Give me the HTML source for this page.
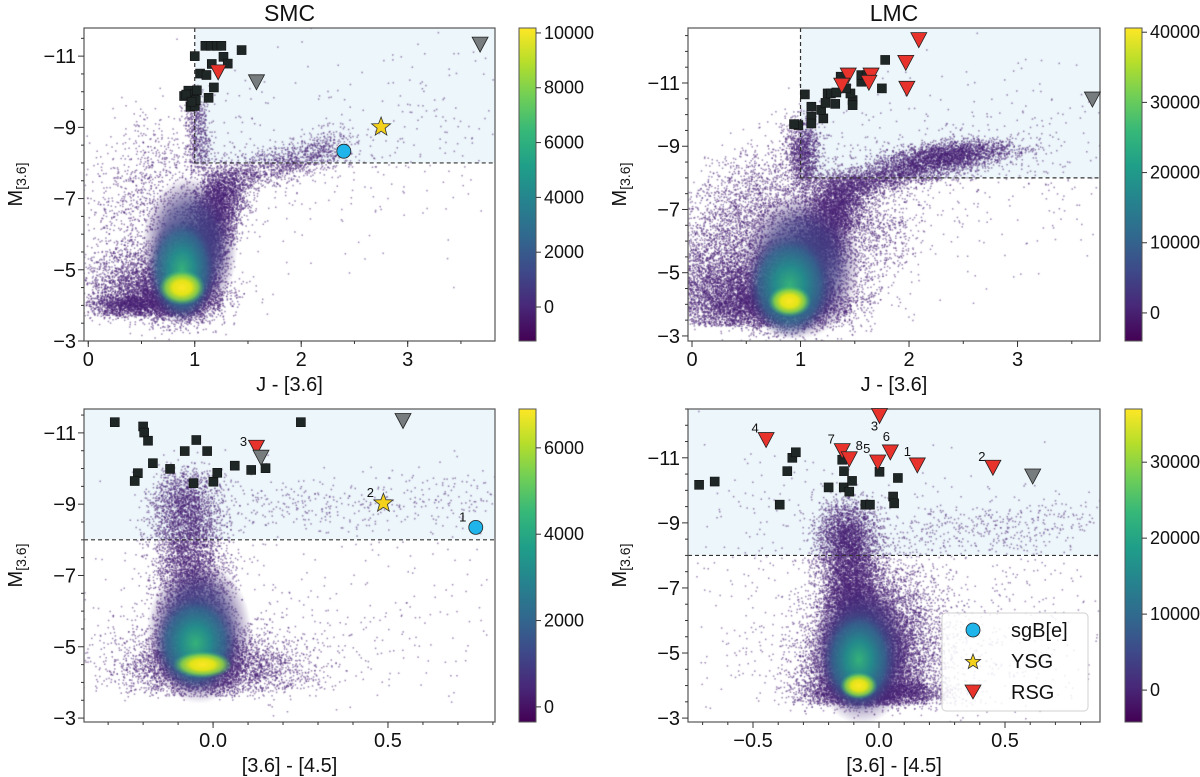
<!DOCTYPE html>
<html><head><meta charset="utf-8"><style>
html,body{margin:0;padding:0;background:#fff;}
#wrap{position:relative;width:1200px;height:777px;overflow:hidden;font-family:"Liberation Sans","DejaVu Sans",sans-serif;}
canvas,svg{position:absolute;left:0;top:0;}
</style></head><body>
<div id="wrap">
<canvas id="cv" width="1200" height="777"></canvas>
<svg id="sv" width="1200" height="777"></svg>
</div>
<script>
// ---------- data ----------
const smcJSqX=[1.10,1.15,1.21,1.25,1.44,1.00,1.27,1.31,1.16,1.05,1.11,1.18,1.13,0.94,0.90,1.00,1.02,0.96,1.00,1.01,0.92,0.97];
const smcJSqY=[-11.29,-11.29,-11.29,-11.29,-11.17,-11.0,-10.98,-10.79,-10.78,-10.51,-10.47,-10.12,-9.83,-10.03,-9.88,-9.93,-10.04,-9.58,-9.6,-9.76,-9.92,-9.72];
const smcJRsgX=[1.22], smcJRsgY=[-10.53];
const smcJGrayX=[1.58,3.68], smcJGrayY=[-10.25,-11.31];
const smcJBeX=[2.40], smcJBeY=[-8.33];
const smcJYsgX=[2.75], smcJYsgY=[-9.01];

const lmcJSqX=[1.78,1.75,1.04,1.10,1.10,1.10,1.21,1.19,1.23,1.25,1.28,1.32,1.33,1.37,1.48,1.48,1.46,1.56,1.56,1.61,0.98,0.94,1.42];
const lmcJSqY=[-11.73,-10.83,-10.64,-10.25,-9.93,-9.72,-9.88,-10.15,-10.37,-10.67,-10.67,-10.34,-10.7,-11.2,-10.46,-10.3,-10.67,-11.04,-11.25,-11.25,-9.67,-9.70,-10.83];
const lmcJRsgX=[2.09,1.97,1.98,1.44,1.65,1.38,1.63];
const lmcJRsgY=[-12.34,-11.62,-10.80,-11.22,-11.22,-10.9,-10.99];
const lmcJGrayX=[3.69], lmcJGrayY=[-10.46];

const smcCSqX=[-0.281,-0.2,-0.197,-0.186,-0.172,-0.215,-0.224,-0.123,-0.081,-0.048,-0.017,-0.056,0.001,0.012,0.062,0.109,0.15,0.251];
const smcCSqY=[-11.3,-11.18,-11.01,-10.78,-10.15,-9.87,-9.65,-9.99,-10.49,-10.8,-10.49,-9.59,-9.63,-9.88,-10.08,-9.96,-10.01,-11.3];
const smcCRsgX=[0.124], smcCRsgY=[-10.57], smcCRsgLbl=["3"];
const smcCGrayX=[0.137,0.543], smcCGrayY=[-10.29,-11.32];
const smcCYsgX=[0.487], smcCYsgY=[-9.03], smcCYsgLbl=["2"];
const smcCBeX=[0.751], smcCBeY=[-8.35], smcCBeLbl=["1"];

const lmcCSqX=[-0.714,-0.652,-0.344,-0.33,-0.364,-0.394,-0.2,-0.14,-0.118,-0.107,-0.146,-0.139,-0.054,-0.036,0.002,0.056,0.06,0.075];
const lmcCSqY=[-10.17,-10.27,-11.0,-11.17,-10.59,-9.56,-10.09,-10.09,-9.96,-10.29,-10.94,-10.59,-9.56,-9.56,-10.57,-9.81,-9.6,-10.38];
const lmcCRsgX=[0.002,-0.448,-0.146,-0.118,-0.005,0.045,0.152,0.452];
const lmcCRsgY=[-12.27,-11.53,-11.19,-10.94,-10.84,-11.15,-10.75,-10.68];
const lmcCRsgLbl=["3","4","7","8","5","6","1","2"];
const lmcCGrayX=[0.61], lmcCGrayY=[-10.41];

const yTicks=[-11,-9,-7,-5,-3];
const jTicks=[0,1,2,3];
const smcCTicks=[0.0,0.5];
const lmcCTicks=[-0.5,0.0,0.5];
const cbSmcJ=[0,2000,4000,6000,8000,10000];
const cbLmcJ=[0,10000,20000,30000,40000];
const cbSmcC=[0,2000,4000,6000];
const cbLmcC=[0,10000,20000,30000];

// ---------- layout ----------
const P={
 tl:{L:84,T:28,W:411,H:313,x0:-0.04,x1:3.82,yt:-11.79,yb:-3.0,cb:{x:519,w:17,v0:-1240,v1:10180}},
 tr:{L:688,T:28,W:412,H:313,x0:-0.037,x1:3.76,yt:-12.74,yb:-2.84,cb:{x:1125,w:17,v0:-4000,v1:40600}},
 bl:{L:84,T:409,W:411,H:313,x0:-0.369,x1:0.806,yt:-11.67,yb:-2.89,cb:{x:519,w:17,v0:-350,v1:6900}},
 br:{L:688,T:409,W:412,H:313,x0:-0.758,x1:0.877,yt:-12.5,yb:-2.88,cb:{x:1125,w:17,v0:-4200,v1:37000}}
};
function sx(p,x){return p.L+(x-p.x0)/(p.x1-p.x0)*p.W;}
function sy(p,y){return p.T+(y-p.yt)/(p.yb-p.yt)*p.H;}

const cv=document.getElementById('cv'),ctx=cv.getContext('2d');
let seed=12345;function rnd(){seed=(seed*1103515245+12345)&0x7fffffff;return seed/0x7fffffff;}
function gauss(){let u=rnd()||1e-9,v=rnd();return Math.sqrt(-2*Math.log(u))*Math.cos(6.2832*v);}

function shade(p,xcut){
 ctx.fillStyle='#edf6fa';
 const x=xcut==null?p.L:sx(p,xcut);
 ctx.fillRect(x,p.T,p.L+p.W-x,sy(p,-8)-p.T);
}
function dots(p,parts){
 ctx.save();ctx.beginPath();ctx.rect(p.L,p.T,p.W,p.H);ctx.clip();
 ctx.fillStyle='rgba(72,35,116,0.55)';
 parts.forEach(c=>{
  for(let i=0;i<c.n;i++){
   let t=rnd();let bx=c.x0+(c.x1-c.x0)*t,by=c.y0+(c.y1-c.y0)*t;
   let x=bx+gauss()*c.sx,y=by+gauss()*c.sy;
   if(c.ymax!=null&&y>c.ymax)continue;
   ctx.fillRect(sx(p,x)-0.7,sy(p,y)-0.7,1.5,1.5);
  }
 });
 ctx.restore();
}
function glow(p,x,y,rx,ry,stops){
 ctx.save();ctx.beginPath();ctx.rect(p.L,p.T,p.W,p.H);ctx.clip();
 const cx=sx(p,x),cy=sy(p,y),rpx=Math.abs(sx(p,x+rx)-cx),rpy=Math.abs(sy(p,y+ry)-cy);
 ctx.translate(cx,cy);ctx.scale(rpx,rpy);
 const g=ctx.createRadialGradient(0,0,0,0,0,1);
 stops.forEach(s=>g.addColorStop(s[0],s[1]));
 ctx.fillStyle=g;ctx.beginPath();ctx.arc(0,0,1,0,6.2832);ctx.fill();ctx.restore();
}
const G0=[[0,'rgba(59,82,139,0.95)'],[0.6,'rgba(65,60,130,0.7)'],[1,'rgba(72,35,116,0)']];
const G1=[[0,'rgba(53,183,121,0.95)'],[0.35,'rgba(33,145,140,0.9)'],[0.7,'rgba(49,104,142,0.75)'],[1,'rgba(68,50,125,0)']];
const G2=[[0,'#fde725'],[0.4,'#e2e418'],[0.7,'rgba(140,213,69,0.85)'],[1,'rgba(53,183,121,0)']];

// TL
shade(P.tl,1);
dots(P.tl,[
 {x0:0.9,y0:-4.2,x1:1.3,y1:-7.5,sx:0.12,sy:0.3,n:7000},
 {x0:0.5,y0:-4.4,x1:0.5,y1:-4.4,sx:0.25,sy:0.6,n:3000,ymax:-3.7},
 {x0:0.85,y0:-4.2,x1:0.85,y1:-4.2,sx:0.22,sy:0.35,n:3000},
 {x0:0.15,y0:-4.0,x1:0.6,y1:-4.0,sx:0.15,sy:0.15,n:900},
 {x0:1.3,y0:-7.5,x1:2.4,y1:-8.5,sx:0.12,sy:0.25,n:1300},
 {x0:1.05,y0:-8,x1:1.0,y1:-9.8,sx:0.06,sy:0.3,n:600},
 {x0:0.4,y0:-5.5,x1:0.7,y1:-8.5,sx:0.25,sy:0.6,n:900},
 {x0:0,y0:-7,x1:3.8,y1:-9,sx:0.2,sy:1.5,n:500}
]);
glow(P.tl,0.95,-5.6,0.45,2.0,G0);glow(P.tl,0.88,-5.0,0.33,1.5,G1);glow(P.tl,0.88,-4.5,0.22,0.5,G2);
// TR
shade(P.tr,1);
dots(P.tr,[
 {x0:0.9,y0:-4.0,x1:1.4,y1:-7.6,sx:0.14,sy:0.35,n:8000},
 {x0:0.4,y0:-4.3,x1:0.4,y1:-4.3,sx:0.35,sy:0.8,n:6000,ymax:-3.3},
 {x0:0.9,y0:-4.0,x1:0.9,y1:-4.0,sx:0.3,sy:0.4,n:4000},
 {x0:0.2,y0:-5.5,x1:0.8,y1:-8.0,sx:0.3,sy:0.7,n:2500},
 {x0:1.3,y0:-7.6,x1:2.6,y1:-8.8,sx:0.15,sy:0.25,n:3000},
 {x0:2.0,y0:-8.5,x1:2.8,y1:-9.0,sx:0.25,sy:0.2,n:1500},
 {x0:1.05,y0:-8,x1:1.0,y1:-9.5,sx:0.08,sy:0.35,n:1200},
 {x0:1.5,y0:-5,x1:1.8,y1:-7,sx:0.2,sy:0.6,n:800},
 {x0:0.5,y0:-7,x1:3.6,y1:-9,sx:0.3,sy:1.5,n:600}
]);
glow(P.tr,1.0,-5.2,0.55,2.3,G0);glow(P.tr,0.9,-4.6,0.4,1.7,G1);glow(P.tr,0.9,-4.1,0.2,0.5,G2);
// BL
shade(P.bl,null);
dots(P.bl,[
 {x0:-0.05,y0:-4.5,x1:-0.08,y1:-9.6,sx:0.05,sy:0.35,n:7000},
 {x0:-0.03,y0:-4.5,x1:-0.03,y1:-4.5,sx:0.09,sy:0.5,n:4000,ymax:-3.6},
 {x0:-0.2,y0:-4.5,x1:0.25,y1:-4.3,sx:0.08,sy:0.4,n:1500,ymax:-3.7},
 {x0:-0.3,y0:-5,x1:0.3,y1:-5,sx:0.15,sy:0.8,n:500},
 {x0:0.0,y0:-8.8,x1:0.8,y1:-9.2,sx:0.08,sy:0.4,n:400},
 {x0:-0.3,y0:-7,x1:0.8,y1:-6,sx:0.1,sy:1.5,n:250}
]);
glow(P.bl,-0.04,-5.4,0.15,2.0,G0);glow(P.bl,-0.05,-5.1,0.12,1.4,G1);glow(P.bl,-0.03,-4.5,0.085,0.38,G2);
// BR
shade(P.br,null);
dots(P.br,[
 {x0:-0.08,y0:-4.0,x1:-0.13,y1:-9.2,sx:0.06,sy:0.4,n:10000},
 {x0:-0.05,y0:-4.5,x1:-0.05,y1:-4.5,sx:0.12,sy:0.8,n:8000,ymax:-3.4},
 {x0:-0.2,y0:-3.8,x1:0.2,y1:-3.8,sx:0.08,sy:0.2,n:2500},
 {x0:0.0,y0:-5,x1:0.0,y1:-7,sx:0.12,sy:0.6,n:3500},
 {x0:-0.5,y0:-5,x1:0.6,y1:-5,sx:0.2,sy:1.0,n:700},
 {x0:0.05,y0:-8.5,x1:0.8,y1:-9.2,sx:0.08,sy:0.4,n:400},
 {x0:-0.7,y0:-9,x1:0.8,y1:-7,sx:0.1,sy:1.5,n:400}
]);
glow(P.br,-0.07,-5.0,0.2,2.2,G0);glow(P.br,-0.08,-4.8,0.15,1.6,G1);glow(P.br,-0.08,-4.0,0.075,0.42,G2);

// ---------- SVG ----------
const NS='http://www.w3.org/2000/svg',sv=document.getElementById('sv');
function el(tag,attrs,parent){const e=document.createElementNS(NS,tag);for(const k in attrs)e.setAttribute(k,attrs[k]);(parent||sv).appendChild(e);return e;}
const defs=el('defs',{});
const vg=el('linearGradient',{id:'vir',x1:'0',y1:'1',x2:'0',y2:'0'},defs);
['#440154','#482878','#3e4989','#31688e','#26828e','#1f9e89','#35b779','#6ece58','#b5de2b','#fde725'].forEach((c,i)=>el('stop',{offset:(i/9).toFixed(3),'stop-color':c},vg));

function panel(key,title,xlabel,xticks,xminorStep,cbTicks){
 const p=P[key];
 const g=el('g',{});
 
 
 const y8=sy(p,-8);
 if(key==='tl'||key==='tr'){
  const x1=sx(p,1);
  const v=el('line',{x1:x1,y1:p.T,x2:x1,y2:y8,stroke:'#333','stroke-width':1.2,'stroke-dasharray':'4,3'},g);
  
  const h=el('line',{x1:x1,y1:y8,x2:p.L+p.W,y2:y8,stroke:'#333','stroke-width':1.2,'stroke-dasharray':'4,3'},g);
  
 } else {
  const h=el('line',{x1:p.L,y1:y8,x2:p.L+p.W,y2:y8,stroke:'#333','stroke-width':1.2,'stroke-dasharray':'4,3'},g);
  
 }
 const fr=el('rect',{x:p.L,y:p.T,width:p.W,height:p.H,fill:'none',stroke:'#555','stroke-width':1.2},g);
 
 for(let v=-13;v<=-2.5;v+=0.5){const yy=sy(p,v);if(yy<p.T-0.5||yy>p.T+p.H+0.5)continue;
  const major=yTicks.indexOf(v)>=0;
  el('line',{x1:p.L,x2:p.L-(major?6:3),y1:yy,y2:yy,stroke:'#333','stroke-width':1},g);}
 yTicks.forEach(v=>{const t=el('text',{x:p.L-8,y:sy(p,v)+7,'text-anchor':'end','font-size':20,fill:'#111'},g);t.textContent='\u2212'+Math.abs(v);
  });
 for(let v=Math.ceil(p.x0/xminorStep)*xminorStep;v<=p.x1;v+=xminorStep){const xx=sx(p,v);
  el('line',{x1:xx,x2:xx,y1:p.T+p.H,y2:p.T+p.H+3,stroke:'#333','stroke-width':1},g);}
 xticks.forEach(v=>{const xx=sx(p,v);el('line',{x1:xx,x2:xx,y1:p.T+p.H,y2:p.T+p.H+6,stroke:'#333','stroke-width':1},g);
  const t=el('text',{x:xx,y:p.T+p.H+25,'text-anchor':'middle','font-size':20,fill:'#111'},g);
  t.textContent=(v<0?'\u2212':'')+(xminorStep<0.5?Math.abs(v).toFixed(1):Math.abs(v));
  });
 if(title){const t=el('text',{x:p.L+p.W/2,y:p.T-7,'text-anchor':'middle','font-size':23,fill:'#111'},g);t.textContent=title;
  }
 const xl=el('text',{x:p.L+p.W/2,y:p.T+p.H+50,'text-anchor':'middle','font-size':20,fill:'#111'},g);xl.textContent=xlabel;
 
 const yl=el('text',{transform:`translate(${p.L-62},${p.T+p.H/2}) rotate(-90)`,'text-anchor':'middle','font-size':20,fill:'#111'},g);
 
 const m=el('tspan',{},yl);m.textContent='M';
 const s=el('tspan',{'font-size':14,dy:4},yl);s.textContent='[3.6]';
 const c=p.cb;
 const cr=el('rect',{x:c.x,y:p.T,width:c.w,height:p.H,fill:'url(#vir)',stroke:'#555','stroke-width':1},g);
 
 cbTicks.forEach(v=>{const yy=p.T+p.H-(v-c.v0)/(c.v1-c.v0)*p.H;
  el('line',{x1:c.x+c.w,x2:c.x+c.w+5,y1:yy,y2:yy,stroke:'#333'},g);
  const t=el('text',{x:c.x+c.w+8,y:yy+6,'font-size':18,fill:'#111'},g);t.textContent=v;
  });
 return g;
}
function clipG(p,name){const g=el('g',{});return g;}
function squares(p,X,Y,g){X.forEach((x,i)=>{const r=el('rect',{x:sx(p,x)-4.5,y:sy(p,Y[i])-4.5,width:9,height:9,fill:'#1f2626',stroke:'#111','stroke-width':0.6},g);
 });}
function tris(p,X,Y,fill,name,g,lbl,lpos){X.forEach((x,i)=>{const cx=sx(p,x),cy=sy(p,Y[i]);
 const t=el('polygon',{points:`${cx-8},${cy-8} ${cx+8},${cy-8} ${cx},${cy+7}`,fill:fill,stroke:'#222','stroke-width':0.8},g);
 
 if(lbl){const o=lpos?lpos[i]:[-13,-2];const l=el('text',{x:cx+o[0],y:cy+o[1],'font-size':13,fill:'#111','text-anchor':'middle'},g);l.textContent=lbl[i];
  }});}
function circles(p,X,Y,g,lbl){X.forEach((x,i)=>{const cx=sx(p,x),cy=sy(p,Y[i]);const c=el('circle',{cx:cx,cy:cy,r:7,fill:'#1fb5ea',stroke:'#222','stroke-width':0.8},g);
 
 if(lbl){const l=el('text',{x:cx-13,y:cy-6,'font-size':13,fill:'#111','text-anchor':'middle'},g);l.textContent=lbl[i];
  }});}
function starPts(cx,cy,R){let s='';for(let k=0;k<10;k++){const r=k%2?R*0.42:R;const a=-Math.PI/2+k*Math.PI/5;s+=(cx+r*Math.cos(a)).toFixed(1)+','+(cy+r*Math.sin(a)).toFixed(1)+' ';}return s;}
function stars(p,X,Y,g,lbl){X.forEach((x,i)=>{const cx=sx(p,x),cy=sy(p,Y[i]);const s=el('polygon',{points:starPts(cx,cy,10),fill:'#f4d21c',stroke:'#333','stroke-width':0.8},g);
 
 if(lbl){const l=el('text',{x:cx-13,y:cy-6,'font-size':13,fill:'#111','text-anchor':'middle'},g);l.textContent=lbl[i];
  }});}

panel('tl','SMC','J - [3.6]',jTicks,0.5,cbSmcJ);
panel('tr','LMC','J - [3.6]',jTicks,0.5,cbLmcJ);
panel('bl',null,'[3.6] - [4.5]',smcCTicks,0.1,cbSmcC);
panel('br',null,'[3.6] - [4.5]',lmcCTicks,0.1,cbLmcC);

let g;
g=clipG(P.tl,'smc-j-markers');squares(P.tl,smcJSqX,smcJSqY,g);tris(P.tl,smcJGrayX,smcJGrayY,'#777d7e','gray-triangle-marker',g);tris(P.tl,smcJRsgX,smcJRsgY,'#e8322c','rsg-marker',g);circles(P.tl,smcJBeX,smcJBeY,g);stars(P.tl,smcJYsgX,smcJYsgY,g);
g=clipG(P.tr,'lmc-j-markers');squares(P.tr,lmcJSqX,lmcJSqY,g);tris(P.tr,lmcJGrayX,lmcJGrayY,'#777d7e','gray-triangle-marker',g);tris(P.tr,lmcJRsgX,lmcJRsgY,'#e8322c','rsg-marker',g);
g=clipG(P.bl,'smc-color-markers');squares(P.bl,smcCSqX,smcCSqY,g);tris(P.bl,smcCRsgX,smcCRsgY,'#e8322c','rsg-marker',g,smcCRsgLbl);tris(P.bl,smcCGrayX,smcCGrayY,'#777d7e','gray-triangle-marker',g);stars(P.bl,smcCYsgX,smcCYsgY,g,smcCYsgLbl);circles(P.bl,smcCBeX,smcCBeY,g,smcCBeLbl);
g=clipG(P.br,'lmc-color-markers');squares(P.br,lmcCSqX,lmcCSqY,g);tris(P.br,lmcCGrayX,lmcCGrayY,'#777d7e','gray-triangle-marker',g);
tris(P.br,lmcCRsgX,lmcCRsgY,'#e8322c','rsg-marker',g,lmcCRsgLbl,[[-5,14],[-11,-8],[-11,-8],[10,-10],[-11,-10],[-4,-12],[-10,-10],[-11,-7]]);

const lg=el('g',{});
el('rect',{x:942,y:613,width:146,height:98,rx:4,fill:'rgba(255,255,255,0.82)',stroke:'#d0d0d0'},lg);
const e1=el('circle',{cx:973,cy:630,r:7,fill:'#1fb5ea',stroke:'#222','stroke-width':0.8},lg);
const e2=el('polygon',{points:starPts(973,662,8),fill:'#f4d21c',stroke:'#333','stroke-width':0.8},lg);
const e3=el('polygon',{points:'965,685 981,685 973,699',fill:'#e8322c',stroke:'#222','stroke-width':0.8},lg);
[['sgB[e]',637],['YSG',668],['RSG',699]].forEach(a=>{const t=el('text',{x:1011,y:a[1],'font-size':20,fill:'#111'},lg);t.textContent=a[0];
 });
</script>
</body></html>
